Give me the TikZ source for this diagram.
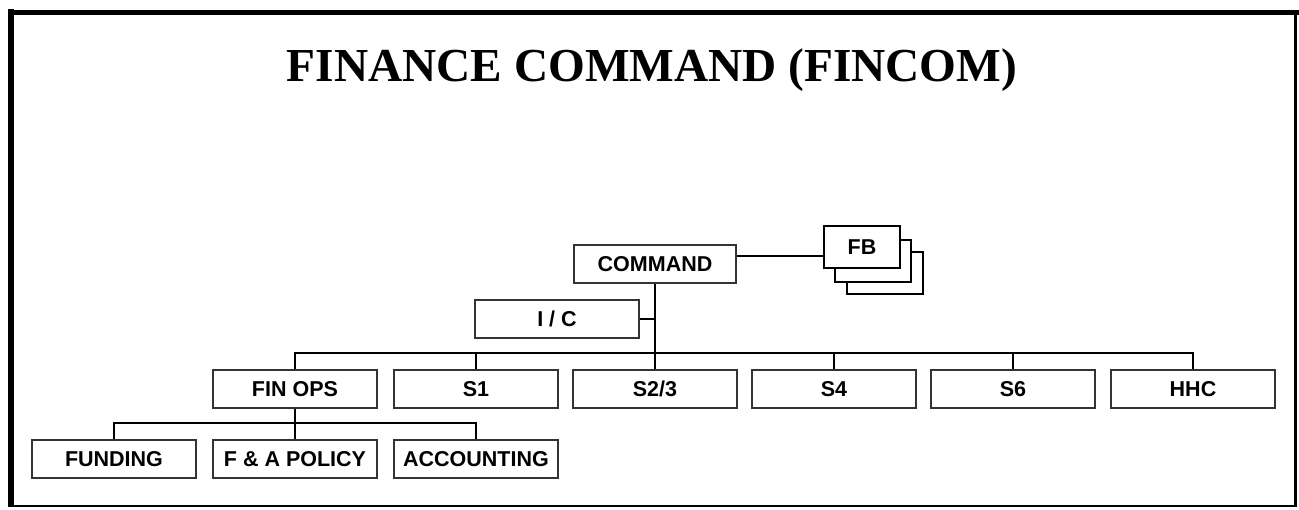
\documentclass[tikz,border=0pt]{standalone}
\usepackage{fontspec}
\setmainfont{Liberation Serif}
\setsansfont{Liberation Sans}
\begin{document}
\begin{tikzpicture}[x=1pt,y=-1pt,
  unit/.style={draw=black!80, line width=2pt, fill=white, inner sep=0pt,
    minimum width=164pt, minimum height=38pt,
    font=\sffamily\bfseries\fontsize{21.5}{24}\selectfont},
  sheet/.style={draw=black, line width=2pt, fill=white, inner sep=0pt,
    minimum width=76pt, minimum height=42pt,
    font=\sffamily\bfseries\fontsize{21.5}{24}\selectfont},
  link/.style={draw=black, line width=2pt},
  frame/.style={draw=black}]
\useasboundingbox (0,0) rectangle (1299,509);

% outer frame
\draw[frame, line width=6pt] (11,9) -- (11,507);
\draw[frame, line width=5pt] (8,12.5) -- (1299,12.5);
\draw[frame, line width=3pt] (1295.5,10) -- (1295.5,507);
\draw[frame, line width=2pt] (8,506) -- (1297,506);

% title
\node[anchor=base, inner sep=0pt, font=\bfseries\fontsize{47.3}{50}\selectfont]
  (title) at (652,81) {FINANCE COMMAND (FINCOM)};

% command level
\node[unit, minimum width=162pt] (cmd) at (655,264) {COMMAND};
\node[unit] (ic) at (557,319) {I / C};

% stacked FB sheets
\node[sheet] (fb3) at (885,273) {};
\node[sheet] (fb2) at (873,261) {};
\node[sheet] (fb1) at (862,247) {FB};

% staff sections
\node[unit] (finops) at (295,389) {FIN OPS};
\node[unit] (s1)     at (476,389) {S1};
\node[unit] (s23)    at (655,389) {S2/3};
\node[unit] (s4)     at (834,389) {S4};
\node[unit] (s6)     at (1013,389) {S6};
\node[unit] (hhc)    at (1193,389) {HHC};

% finance operations branches
\node[unit] (funding) at (114,459) {FUNDING};
\node[unit] (fapol)   at (295,459) {F \& A POLICY};
\node[unit] (acct)    at (476,459) {ACCOUNTING};

% connectors
\coordinate (fbj) at (780,256);
\coordinate (bus) at (0,353);
\coordinate (sub) at (0,423);

\draw[link] (fbj -| cmd.east) -- (fbj -| fb1.west);
\draw[link] (cmd.south) -- (s23.north);
\draw[link] (ic.east) -- (ic.east -| cmd.south);
\draw[link] (finops.north) |- (bus -| s23.north) -| (hhc.north);
\draw[link] (s1.north) -- (s1.north |- bus);
\draw[link] (s4.north) -- (s4.north |- bus);
\draw[link] (s6.north) -- (s6.north |- bus);
\draw[link] (finops.south) -- (fapol.north);
\draw[link] (funding.north) |- (sub -| finops.south) -| (acct.north);
\end{tikzpicture}
\end{document}
